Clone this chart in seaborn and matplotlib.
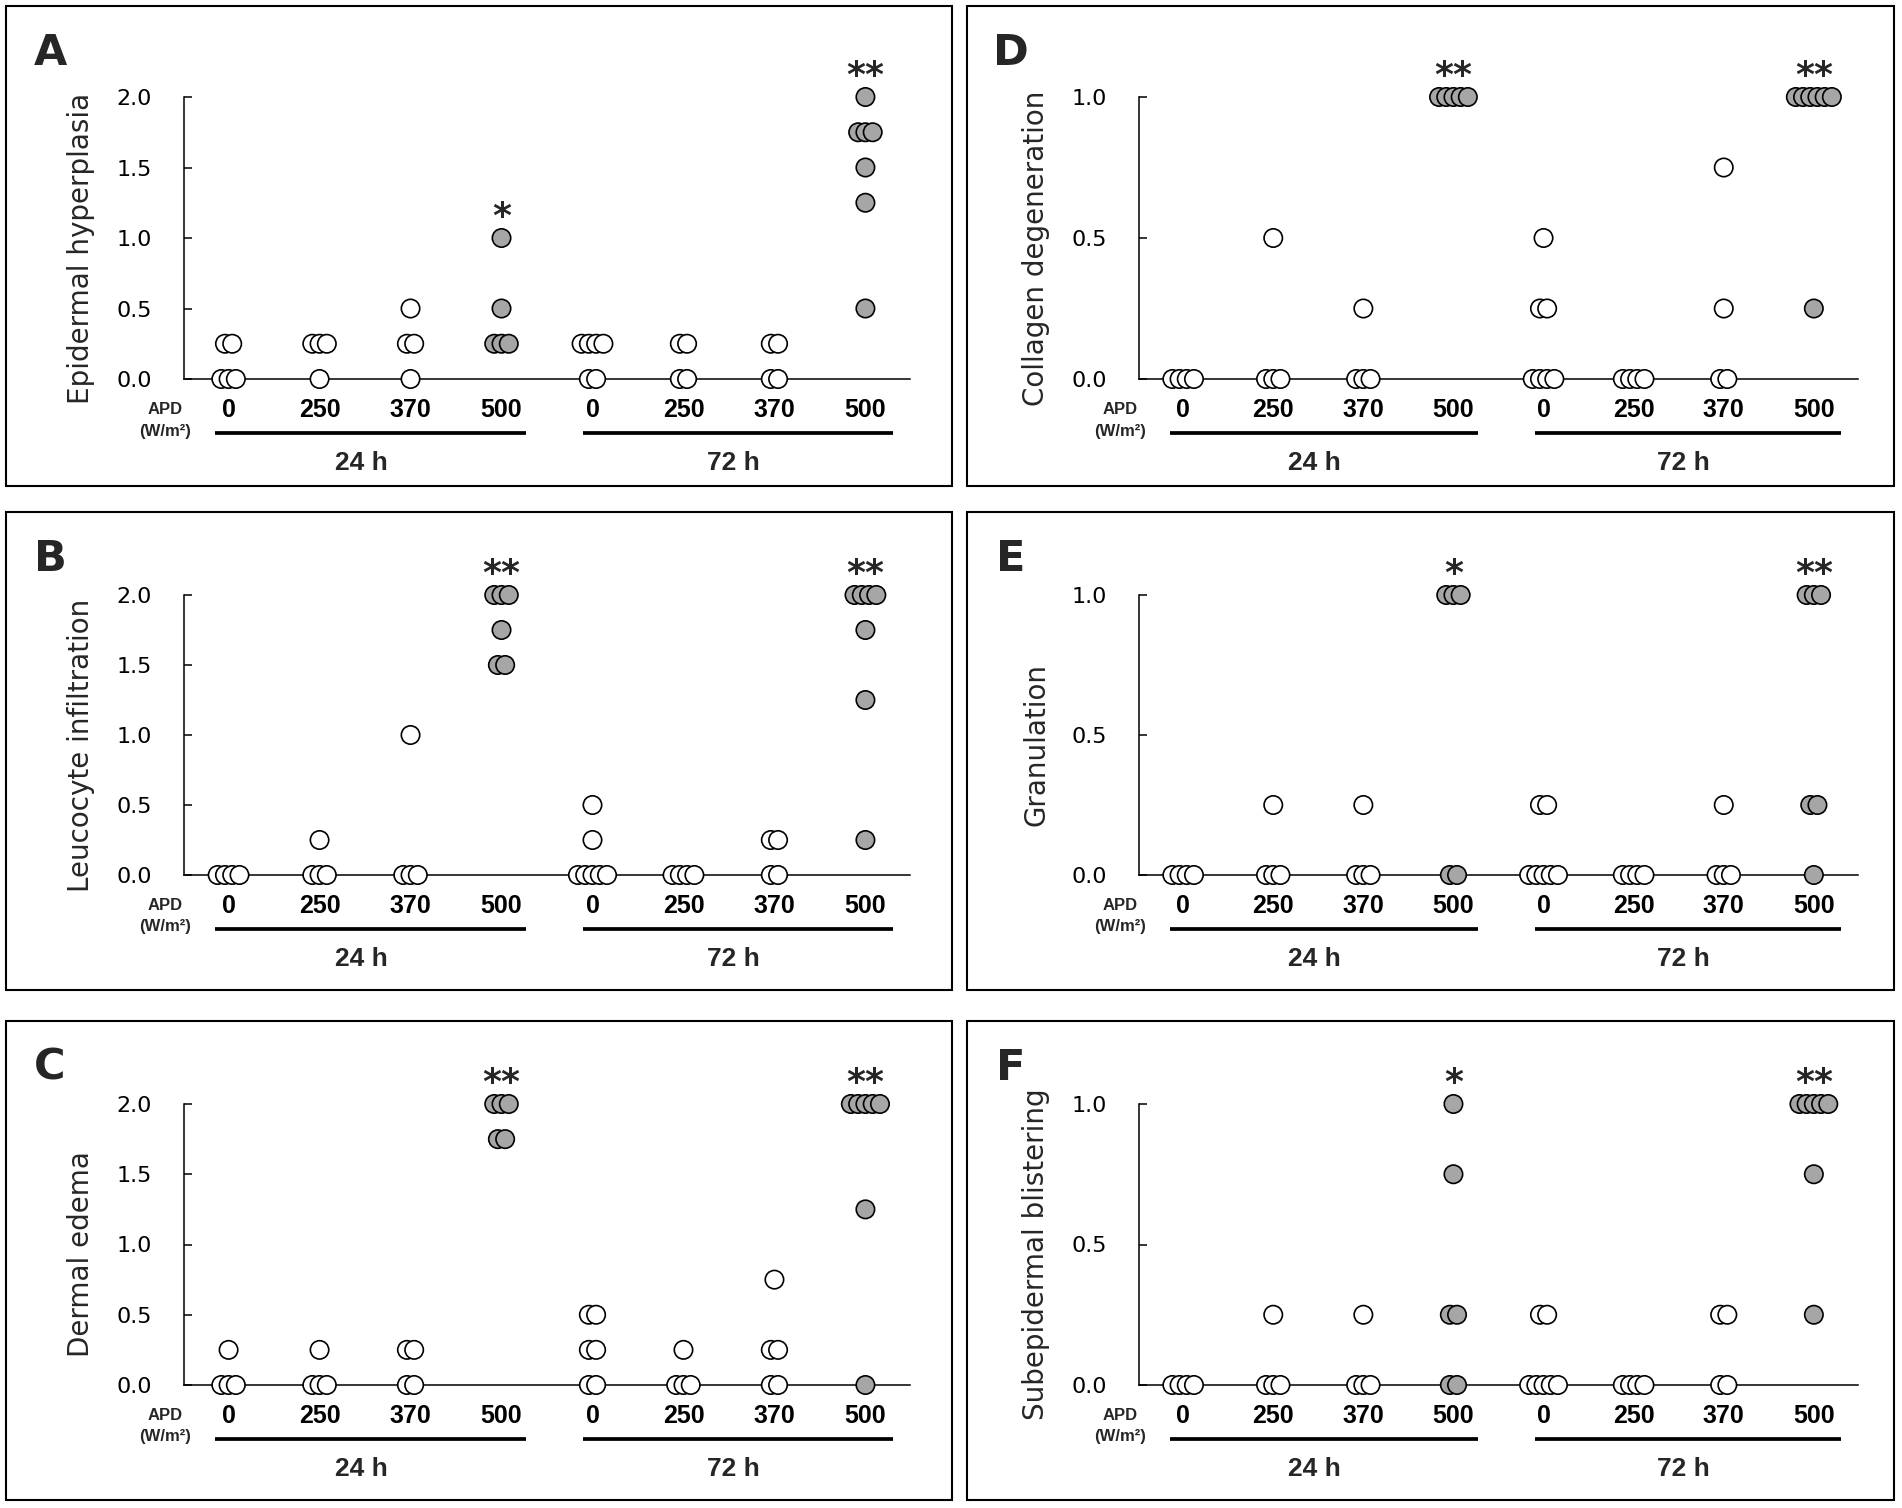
import numpy as np
import pandas as pd
import matplotlib.pyplot as plt
import seaborn as sns
from matplotlib.patches import Rectangle
from matplotlib.transforms import ScaledTranslation

# x-axis groups (APD in W/m2, two time points)
doses = ['0', '250', '370', '500', '0', '250', '370', '500']
times = ['24 h', '72 h']
time_centers = [1.46, 5.55]
time_spans = [(-0.15, 3.27), (3.9, 7.3)]
is_500 = [False, False, False, True, False, False, False, True]

# histology scores, one list per group
epidermal_hyperplasia = [
    [0.25, 0.25, 0, 0, 0], [0.25, 0.25, 0.25, 0], [0.5, 0.25, 0.25, 0],
    [1.0, 0.5, 0.25, 0.25, 0.25],
    [0.25, 0.25, 0.25, 0.25, 0, 0], [0.25, 0.25, 0, 0], [0.25, 0.25, 0, 0],
    [2.0, 1.75, 1.75, 1.75, 1.5, 1.25, 0.5],
]
leucocyte_infiltration = [
    [0, 0, 0, 0], [0.25, 0, 0, 0], [1.0, 0, 0, 0],
    [2.0, 2.0, 2.0, 1.75, 1.5, 1.5],
    [0.5, 0.25, 0, 0, 0, 0, 0], [0, 0, 0, 0], [0.25, 0.25, 0, 0],
    [2.0, 2.0, 2.0, 2.0, 1.75, 1.25, 0.25],
]
dermal_edema = [
    [0.25, 0, 0, 0], [0.25, 0, 0, 0], [0.25, 0.25, 0, 0],
    [2.0, 2.0, 2.0, 1.75, 1.75],
    [0.5, 0.5, 0.25, 0.25, 0, 0], [0.25, 0, 0, 0], [0.75, 0.25, 0.25, 0, 0],
    [2.0, 2.0, 2.0, 2.0, 2.0, 1.25, 0],
]
collagen_degeneration = [
    [0, 0, 0, 0], [0.5, 0, 0, 0], [0.25, 0, 0, 0],
    [1.0, 1.0, 1.0, 1.0, 1.0],
    [0.5, 0.25, 0.25, 0, 0, 0, 0], [0, 0, 0, 0], [0.75, 0.25, 0, 0],
    [1.0, 1.0, 1.0, 1.0, 1.0, 1.0, 0.25],
]
granulation = [
    [0, 0, 0, 0], [0.25, 0, 0, 0], [0.25, 0, 0, 0],
    [1.0, 1.0, 1.0, 0, 0],
    [0.25, 0.25, 0, 0, 0, 0, 0], [0, 0, 0, 0], [0.25, 0, 0, 0],
    [1.0, 1.0, 1.0, 0.25, 0.25, 0],
]
subepidermal_blistering = [
    [0, 0, 0, 0], [0.25, 0, 0, 0], [0.25, 0, 0, 0],
    [1.0, 0.75, 0.25, 0.25, 0, 0],
    [0.25, 0.25, 0, 0, 0, 0, 0], [0, 0, 0, 0], [0.25, 0.25, 0, 0],
    [1.0, 1.0, 1.0, 1.0, 1.0, 0.75, 0.25],
]

stars_A = ['', '', '', '*', '', '', '', '**']
stars_B = ['', '', '', '**', '', '', '', '**']
stars_C = ['', '', '', '**', '', '', '', '**']
stars_D = ['', '', '', '**', '', '', '', '**']
stars_E = ['', '', '', '*', '', '', '', '**']
stars_F = ['', '', '', '*', '', '', '', '**']

panels = [
    ('A', 'Epidermal hyperplasia', epidermal_hyperplasia, stars_A, 2.0, 0, 0),
    ('B', 'Leucocyte infiltration', leucocyte_infiltration, stars_B, 2.0, 0, 1),
    ('C', 'Dermal edema', dermal_edema, stars_C, 2.0, 0, 2),
    ('D', 'Collagen degeneration', collagen_degeneration, stars_D, 1.0, 1, 0),
    ('E', 'Granulation', granulation, stars_E, 1.0, 1, 1),
    ('F', 'Subepidermal blistering', subepidermal_blistering, stars_F, 1.0, 1, 2),
]

# layout in pixels of the 1902x1508 canvas
W, H = 1902, 1508
col_axis = [(184, 910), (1139, 1858)]
row_axis = [(97, 379), (595, 875), (1104, 1385)]
col_box = [(6, 952), (967, 1894)]
row_box = [(6, 486), (512, 990), (1021, 1500)]
step = 0.08  # sideways shift between tied scores


def frac(x, y):
    return x / W, 1 - y / H


def to_frame(groups):
    rows = []
    for i, vals in enumerate(groups):
        for v in sorted(set(vals), reverse=True):
            k = vals.count(v)
            for o in (np.arange(k) - (k - 1) / 2) * step:
                rows.append({'x': i + o, 'score': v,
                             'grp': '500' if is_500[i] else 'other'})
    return pd.DataFrame(rows)


sns.set_theme(style='white')
plt.rcParams['font.family'] = ['DejaVu Sans']

fig = plt.figure(figsize=(19.02, 15.08), dpi=100)

for letter, ylabel, groups, stars, ymax, c, r in panels:
    (ax_l, ax_r), (ax_t, ax_b) = col_axis[c], row_axis[r]
    (bx_l, bx_r), (bx_t, bx_b) = col_box[c], row_box[r]

    # panel frame
    x0, y0 = frac(bx_l, bx_b)
    fig.add_artist(Rectangle((x0, y0), (bx_r - bx_l) / W, (bx_b - bx_t) / H,
                             transform=fig.transFigure, fill=False,
                             ec='black', lw=1.5))

    ax = fig.add_axes([ax_l / W, 1 - ax_b / H, (ax_r - ax_l) / W, (ax_b - ax_t) / H])
    ax.patch.set_alpha(0)

    df = to_frame(groups)
    sns.scatterplot(data=df, x='x', y='score', hue='grp',
                    palette={'other': 'white', '500': '#a6a6a6'},
                    edgecolor='black', linewidth=1.2, s=175, legend=False,
                    ax=ax, clip_on=False, zorder=3)

    ax.set_xlim(-0.49, 7.49)
    ax.set_ylim(0, ymax)
    yt = np.arange(0, ymax + 0.01, 0.5)
    ax.set_yticks(yt)
    ax.set_yticklabels([f'{t:.1f}' for t in yt], fontsize=16)
    ax.tick_params(axis='y', direction='in', length=6, width=1.1, pad=23,
                   colors='black', left=True)
    ax.set_xticks(range(len(doses)))
    ax.set_xticklabels(doses, fontsize=18, fontweight='bold', family='Liberation Sans')
    ax.tick_params(axis='x', length=0, pad=14, colors='black')
    ax.set_xlabel('')
    ax.set_ylabel('')
    sns.despine(ax=ax)
    for side in ['left', 'bottom']:
        ax.spines[side].set_color('black')
        ax.spines[side].set_linewidth(1.1)

    # significance marks
    for i, s in enumerate(stars):
        if s:
            ax.annotate(s, xy=(i, max(groups[i])), xytext=(0, 8),
                        textcoords='offset points', ha='center', va='baseline',
                        fontsize=26, fontweight='bold', annotation_clip=False)

    def below(d):
        return ax.get_xaxis_transform() + ScaledTranslation(0, -d / 100, fig.dpi_scale_trans)

    ax.text(-0.7, 0, 'APD', transform=below(30), ha='center', va='center',
            fontsize=12, fontweight='bold', family='Liberation Sans')
    ax.text(-0.7, 0, '(W/m²)', transform=below(52), ha='center', va='center',
            fontsize=12, fontweight='bold', family='Liberation Sans')
    for (s0, s1), xc, t in zip(time_spans, time_centers, times):
        ax.plot([s0, s1], [0, 0], transform=below(54), color='black', lw=2.7,
                clip_on=False, solid_capstyle='butt')
        ax.text(xc, 0, t, transform=below(84), ha='center', va='center',
                fontsize=19, fontweight='bold', family='Liberation Sans')

    # y label and panel letter
    fig.text(*frac(ax_l - 103, (ax_t + ax_b) / 2 + 10), ylabel, rotation=90,
             ha='center', va='center', fontsize=20)
    fig.text(*frac(bx_l + 44, bx_t + 47), letter, ha='center', va='center',
             fontsize=31, fontweight='bold')

fig.savefig('out.png', dpi=100)
